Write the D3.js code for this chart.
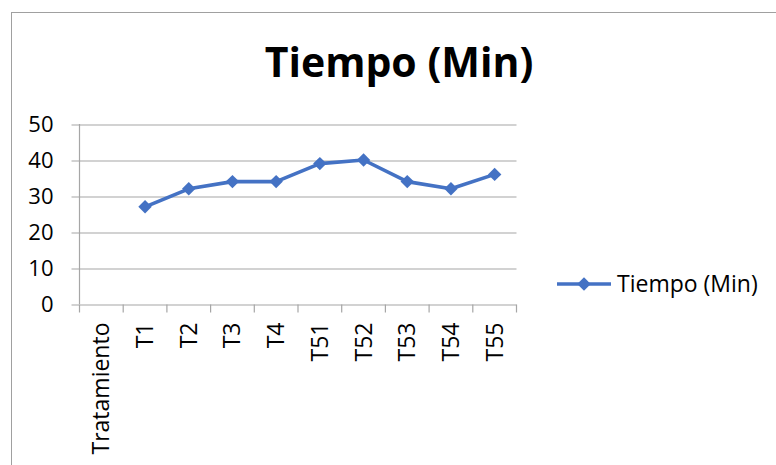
<!DOCTYPE html>
<html>
<head>
<meta charset="utf-8">
<script src="https://cdn.jsdelivr.net/npm/d3@7"></script>
<style>
    body { margin: 0; background: #fff; }
    svg { display: block; }
    text { font-family: "Open Sans", sans-serif; fill: #000; }
</style>
</head>
<body>
<script>
var categories = ["Tratamiento", "T1", "T2", "T3", "T4", "T51", "T52", "T53", "T54", "T55"];
var tiempo = [null, 27, 32, 34, 34, 39, 40, 34, 32, 36];
var yTicks = [0, 10, 20, 30, 40, 50];
var seriesName = "Tiempo (Min)";

var W = 776, H = 465;
var margin = {left: 79.5, top: 124, right: 259.5, bottom: 161};
var width = W - margin.left - margin.right;
var height = H - margin.top - margin.bottom;

var data = categories.map(function (c, i) {
    return {cat: c, value: tiempo[i]};
});

var svg = d3.select("body").append("svg")
    .attr("width", W)
    .attr("height", H);

// outer chart border (runs off the right and bottom)
svg.append("rect")
    .attr("x", 11.5).attr("y", 12.5)
    .attr("width", W).attr("height", H)
    .attr("fill", "none")
    .attr("stroke", "#a0a0a0")
    .attr("stroke-width", 1);

svg.append("text")
    .attr("x", 399)
    .attr("y", 77)
    .attr("text-anchor", "middle")
    .style("font-weight", "bold")
    .style("font-size", "41px")
    .text("Tiempo (Min)");

var g = svg.append("g").attr("transform", "translate(" + margin.left + "," + margin.top + ")");

var xScale = d3.scaleBand()
    .domain(categories)
    .range([0, width]);

var yScale = d3.scaleLinear()
    .domain([0, 50])
    .range([height, 0]);

// gridlines + y ticks (labels drawn separately)
var yAxis = d3.axisLeft(yScale)
    .tickValues(yTicks)
    .tickSize(-width - 8)
    .tickSizeOuter(0)
    .tickFormat("");

var yG = g.append("g")
    .attr("class", "axis y")
    .attr("transform", "translate(" + (-8) + ",0)")
    .call(yAxis);
yG.select(".domain").remove();
yG.selectAll(".tick line")
    .attr("stroke", "#a6a6a6")
    .attr("stroke-width", 1.2)
    .attr("transform", "translate(0,0.5)");

g.selectAll(".ylabel")
    .data(yTicks)
    .enter().append("text")
    .attr("class", "ylabel")
    .attr("x", -26)
    .attr("y", function (d) { return yScale(d); })
    .attr("dy", "0.36em")
    .attr("text-anchor", "end")
    .style("font-size", "22px")
    .text(function (d) { return d; });

// vertical axis line
g.append("line")
    .attr("x1", 0).attr("x2", 0)
    .attr("y1", 0).attr("y2", height)
    .attr("stroke", "#a6a6a6")
    .attr("stroke-width", 1.2);

// category axis: ticks at band boundaries
var bounds = categories.map(function (c) { return xScale(c); }).concat([width]);
var xG = g.append("g").attr("class", "axis x")
    .attr("transform", "translate(0," + (height + 0.5) + ")");
xG.selectAll(".cat-tick")
    .data(bounds)
    .enter().append("line")
    .attr("x1", function (d) { return d; })
    .attr("x2", function (d) { return d; })
    .attr("y1", 0).attr("y2", 8)
    .attr("stroke", "#a6a6a6")
    .attr("stroke-width", 1.2);

xG.selectAll(".cat-label")
    .data(categories)
    .enter().append("text")
    .attr("transform", function (d) {
        return "translate(" + (xScale(d) + xScale.bandwidth() / 2 + 8) + ",18) rotate(-90)";
    })
    .attr("text-anchor", "end")
    .style("font-size", "23px")
    .text(function (d) { return d; });

var line = d3.line()
    .defined(function (d) { return d.value != null; })
    .x(function (d) { return xScale(d.cat) + xScale.bandwidth() / 2; })
    .y(function (d) { return yScale(d.value); });

g.append("path")
    .datum(data)
    .attr("fill", "none")
    .attr("stroke", "#4472c4")
    .attr("stroke-width", 3.6)
    .attr("stroke-linejoin", "round")
    .attr("d", line);

var diamond = d3.symbol().type(d3.symbolDiamond2).size(115);

g.selectAll(".marker")
    .data(data.filter(function (d) { return d.value != null; }))
    .enter().append("path")
    .attr("class", "marker")
    .attr("transform", function (d) {
        return "translate(" + (xScale(d.cat) + xScale.bandwidth() / 2) + "," + yScale(d.value) + ")";
    })
    .attr("d", diamond)
    .attr("fill", "#4472c4");

// legend
var legend = svg.append("g").attr("transform", "translate(557,284)");
legend.append("line")
    .attr("x1", 0).attr("x2", 54)
    .attr("stroke", "#4472c4")
    .attr("stroke-width", 3.6);
legend.append("path")
    .attr("transform", "translate(27,0)")
    .attr("d", diamond)
    .attr("fill", "#4472c4");
legend.append("text")
    .attr("x", 60)
    .attr("dy", "0.36em")
    .style("font-size", "23px")
    .text(seriesName);
</script>
</body>
</html>
